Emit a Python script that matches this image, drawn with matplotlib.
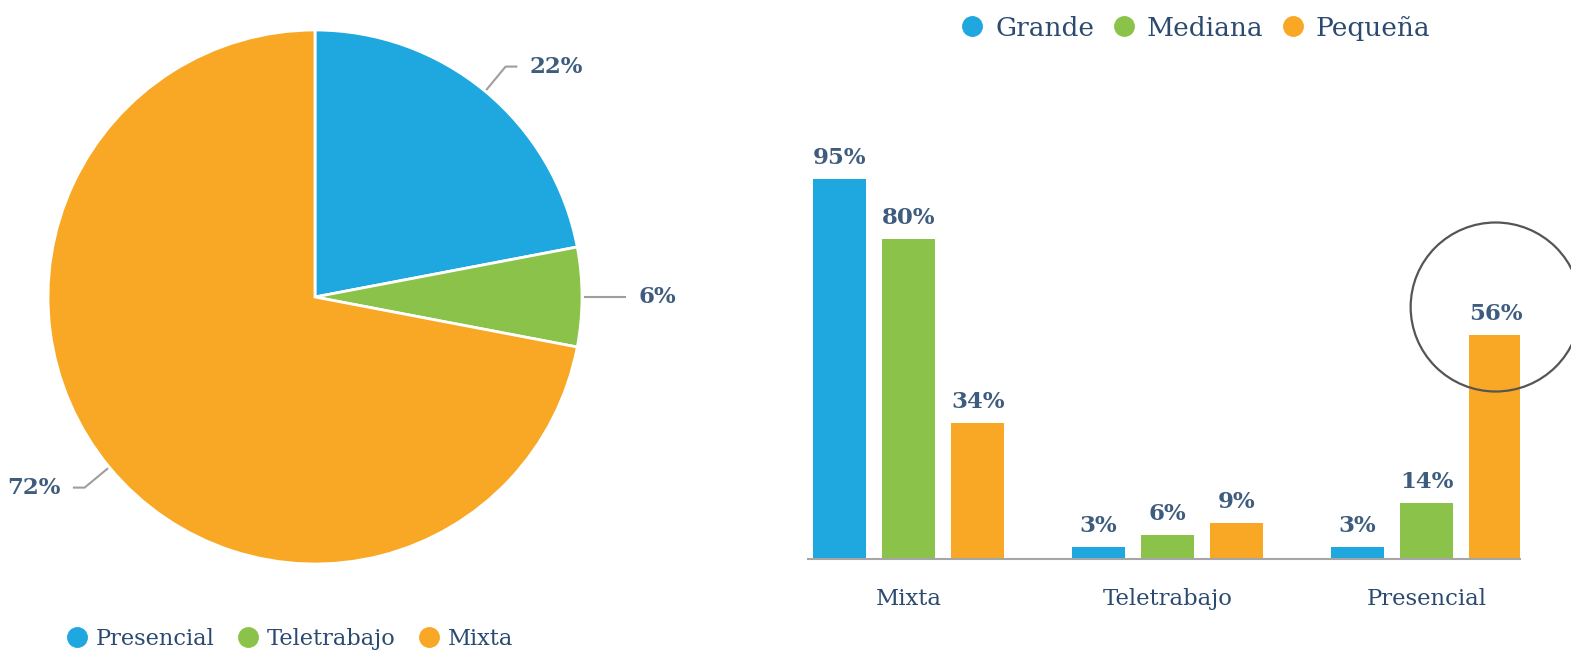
import numpy as np
import matplotlib
matplotlib.use("Agg")
import matplotlib.pyplot as plt
from matplotlib.lines import Line2D
from matplotlib.patches import Ellipse

# data
pie_labels = ["Presencial", "Teletrabajo", "Mixta"]
pie_values = [22, 6, 72]

categories = ["Mixta", "Teletrabajo", "Presencial"]
series_names = ["Grande", "Mediana", "Pequeña"]
grande = [95, 3, 3]
mediana = [80, 6, 14]
pequena = [34, 9, 56]

colors = ["#1FA7DF", "#8BC34A", "#F9A825"]
txt_col = "#2B4A6F"
val_col = "#3E5C7E"
plt.rcParams["font.family"] = ["DejaVu Serif"]

W, H = 1571, 652
fig = plt.figure(figsize=(W / 100, H / 100), dpi=100)

# ---- pie ----
ax = fig.add_axes([48 / W, 88 / H, 534 / W, 534 / H])
ax.pie(pie_values, colors=colors, startangle=90, counterclock=False,
       wedgeprops=dict(edgecolor="white", linewidth=2))
ax.set_xlim(-1, 1)
ax.set_ylim(-1, 1)
ax.set_aspect("equal")

total = float(sum(pie_values))
start = 90.0
for v in pie_values:
    span = v / total * 360
    mid = np.deg2rad(start - span / 2)
    start -= span
    c, s = np.cos(mid), np.sin(mid)
    side = 1 if c >= 0 else -1
    p0 = (1.01 * c, 1.01 * s)
    p1 = (1.12 * c, 1.12 * s)
    p2 = (p1[0] + side * 0.04, p1[1])
    ax.plot([p0[0], p1[0], p2[0]], [p0[1], p1[1], p2[1]], color="#9E9E9E",
            lw=1.5, clip_on=False)
    ax.text(p2[0] + side * 0.05, p2[1], f"{v}%", ha="left" if side > 0 else "right",
            va="center", fontsize=16.5, fontweight="bold", color=val_col)

h_pie = [Line2D([], [], ls="", marker="o", ms=14, color=c) for c in colors]
fig.legend(h_pie, pie_labels, loc="center left", bbox_to_anchor=(68 / W, 1 - 639 / H),
           ncol=3, frameon=False, fontsize=16.2, handlelength=0.8, handletextpad=0.44,
           columnspacing=1.08, borderpad=0, borderaxespad=0, labelcolor=txt_col)

# ---- bars ----
ax2 = fig.add_axes([808 / W, 93 / H, 712 / W, 400 / H])
x = np.arange(len(categories))
offsets = [-0.267, 0, 0.267]
bw = 0.205
for vals, off, col in zip([grande, mediana, pequena], offsets, colors):
    ax2.bar(x + off, vals, bw, color=col)
    for xi, v in zip(x + off, vals):
        ax2.annotate(f"{v}%", (xi, v), xytext=(0, 11), textcoords="offset points",
                     ha="center", va="baseline", fontsize=16.5, fontweight="bold",
                     color=val_col)

ax2.set_xlim(-0.388, 2.361)
ax2.set_ylim(0, 100)
for sp in ["top", "right", "left"]:
    ax2.spines[sp].set_visible(False)
ax2.spines["bottom"].set_color("#A6A6A6")
ax2.spines["bottom"].set_linewidth(1.5)
ax2.set_yticks([])
ax2.set_xticks(x, categories)
ax2.tick_params(axis="x", length=0, pad=21, labelsize=16.4, labelcolor=txt_col)

# highlight circle around the small-company presencial bar
hx = x[2] + offsets[2]
ax2.add_patch(Ellipse((hx, pequena[2] + 7), 170 / 259, 169 / 4, fill=False,
                      ec="#555555", lw=1.6, clip_on=False))

h_bar = [Line2D([], [], ls="", marker="o", ms=14, color=c) for c in colors]
fig.legend(h_bar, series_names, loc="center left", bbox_to_anchor=(961.5 / W, 1 - 28 / H),
           ncol=3, frameon=False, fontsize=19, handlelength=0.8, handletextpad=0.47,
           columnspacing=0.72, borderpad=0, borderaxespad=0, labelcolor=txt_col)

fig.savefig("out.png", dpi=100)
